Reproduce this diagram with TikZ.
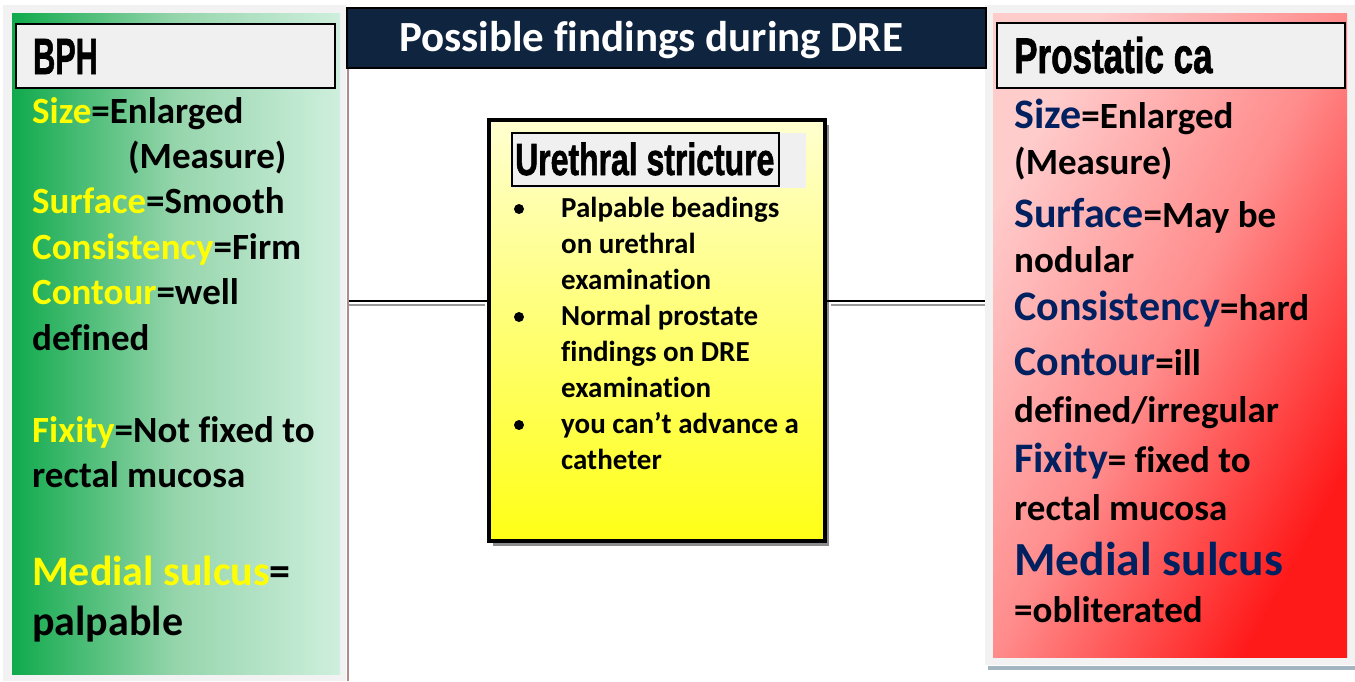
\documentclass[tikz,border=0pt]{standalone}
\usepackage{fontspec}
\usepackage{graphicx}
\setmainfont{Carlito}[Ligatures=NoCommon]
\newfontfamily\headfont{Liberation Sans}[BoldFeatures={FakeBold=1.6}]
\usetikzlibrary{shadows}

\definecolor{navy}{HTML}{0F243E}
\definecolor{labblue}{HTML}{002060}
\definecolor{panelgray}{HTML}{F2F2F2}
\definecolor{hdrgray}{HTML}{F0F0F0}
\definecolor{edgebrown}{HTML}{B08C8C}
\definecolor{bluegray}{HTML}{A3B5C0}
\definecolor{hiyellow}{HTML}{FFFF00}

% coloured keywords
\newcommand\hiY[1]{\textcolor{hiyellow}{#1}}
\newcommand\labB[1]{{\color{labblue}\fontsize{42}{50}\selectfont #1}}

\begin{document}
\begin{tikzpicture}[x=1pt,y=-1pt,
  ltxt/.style={anchor=base west,inner sep=0pt,font=\bfseries\fontsize{37}{44}\selectfont},
  bigtxt/.style={font=\bfseries\fontsize{42}{50}\selectfont},
  mtxt/.style={anchor=base west,inner sep=0pt,font=\bfseries\fontsize{29}{35}\selectfont},
  headbox/.style={draw=black,line width=2pt,fill=hdrgray,inner sep=0pt},
  headtxt/.style={anchor=base west,inner sep=0pt},
  bulletdot/.style={circle,fill=black,inner sep=0pt,minimum size=10pt},
  link/.style={draw=black,line width=2pt},
  linkshade/.style={draw=black!40,line width=2pt}
]
\useasboundingbox (0,0) rectangle (1355,681);
\fill[white] (0,0) rectangle (1355,681);

% ---- left panel (BPH) ----
\fill[panelgray] (3,5) rectangle (346,681);
\node[anchor=north west,inner sep=0pt,minimum width=328pt,minimum height=661pt,
      left color={rgb,255:red,16;green,170;blue,76},
      right color={rgb,255:red,206;green,239;blue,221},
      middle color={rgb,255:red,150;green,213;blue,172}] (bph) at (12,13) {};
\node[headbox,minimum width=319pt,minimum height=64pt] (bphhead) at (175.5,56) {};
\node[headtxt,font=\headfont\bfseries\fontsize{51}{51}\selectfont] (bphtitle) at (33,74) {\scalebox{0.6}[1]{BPH}};

\node[ltxt] (l1) at (32,123) {\hiY{Size}=Enlarged};
\node[ltxt] (l2) at (128,168.4) {(Measure)};
\node[ltxt] (l3) at (32,213.8) {\hiY{Surface}=Smooth};
\node[ltxt] (l4) at (32,259.2) {\hiY{Consistency}=Firm};
\node[ltxt] (l5) at (32,304.6) {\hiY{Contour}=well};
\node[ltxt] (l6) at (32,350) {defined};
\node[ltxt] (l7) at (32,442) {\hiY{Fixity}=Not fixed to};
\node[ltxt] (l8) at (32,487) {rectal mucosa};
\node[ltxt,bigtxt] (l9) at (32,585) {\hiY{Medial sulcus}=};
\node[ltxt,bigtxt] (l10) at (32,635) {palpable};

% ---- right panel (prostatic carcinoma) ----
\fill[panelgray] (985,5) rectangle (1355,665);
\fill[bluegray] (988,666) rectangle (1355,670);
% diagonal corner-to-corner gradient: a 45-degree shading on a unit square,
% stretched on the canvas to the panel size
\begin{scope}[transform canvas={shift={(993,13)},xscale=3.54,yscale=6.44}]
  \shade[top color={rgb,255:red,255;green,204;blue,204},
         bottom color={rgb,255:red,255;green,26;blue,26},
         middle color={rgb,255:red,255;green,140;blue,140},
         shading angle=45] (0,0) rectangle (100,100);
\end{scope}
\node[anchor=north west,inner sep=0pt,minimum width=354pt,minimum height=644pt] (pca) at (993,13) {};
\node[headbox,minimum width=348pt,minimum height=65pt] (pcahead) at (1171,55.5) {};
\node[headtxt,font=\headfont\bfseries\fontsize{50}{50}\selectfont] (pcatitle) at (1014,73) {\scalebox{0.7}[1]{Prostatic ca}};

\node[ltxt] (r1) at (1014,128) {\labB{Size}=Enlarged};
\node[ltxt] (r2) at (1014,174) {(Measure)};
\node[ltxt] (r3) at (1014,227) {\labB{Surface}=May be};
\node[ltxt] (r4) at (1014,272) {nodular};
\node[ltxt] (r5) at (1014,320) {\labB{Consistency}=hard};
\node[ltxt] (r6) at (1014,375) {\labB{Contour}=ill};
\node[ltxt] (r7) at (1014,422) {defined/irregular};
\node[ltxt] (r8) at (1014,472) {\labB{Fixity}= fixed to};
\node[ltxt] (r9) at (1014,520) {rectal mucosa};
\node[ltxt,font=\bfseries\fontsize{47.5}{55}\selectfont,text=labblue] (r10) at (1014,575) {Medial sulcus};
\node[ltxt] (r11) at (1014,622) {=obliterated};

% ---- centre: title bar and divider ----
\draw[edgebrown,line width=2pt] (348,67) -- (348,681);
\node[anchor=north west,draw=black,line width=1.5pt,fill=navy,inner sep=0pt,
      minimum width=639pt,minimum height=60pt] (titlebar) at (346,7) {};
\node[anchor=base,inner sep=0pt,text=white,font=\bfseries\fontsize{43}{50}\selectfont] (titletext) at (651,51) {Possible findings during DRE};

% ---- centre box: urethral stricture ----
\node[draw=black,line width=4pt,minimum width=336pt,minimum height=421pt,inner sep=0pt,
      top color={rgb,255:red,255;green,255;blue,208},
      bottom color={rgb,255:red,255;green,255;blue,22},
      drop shadow={shadow xshift=4pt,shadow yshift=-5pt,fill=black!45,opacity=1}] (stricture) at (657,330.5) {};
\node[fill=hdrgray,inner sep=0pt,minimum width=294pt,minimum height=55pt] (urhbg) at (659,160.5) {};
\node[draw=black,line width=1.5pt,inner sep=0pt,minimum width=267pt,minimum height=53pt] (urhead) at (645.5,159.5) {};
\node[headtxt,font=\headfont\bfseries\fontsize{45}{45}\selectfont] (urtitle) at (515,175) {\scalebox{0.71}[1]{Urethral stricture}};

\node[bulletdot] (b1) at (519,209) {};
\node[bulletdot] (b2) at (519,317) {};
\node[bulletdot] (b3) at (519,425) {};
\node[mtxt] (m1) at (561,217) {Palpable beadings};
\node[mtxt] (m2) at (561,253) {on urethral};
\node[mtxt] (m3) at (561,289) {examination};
\node[mtxt] (m4) at (561,325) {Normal prostate};
\node[mtxt] (m5) at (561,361) {findings on DRE};
\node[mtxt] (m6) at (561,397) {examination};
\node[mtxt] (m7) at (561,433) {you can’t advance a};
\node[mtxt] (m8) at (561,469) {catheter};

% ---- connectors between the divider, the centre box and the right panel ----
\coordinate (lend) at (349,301);
\coordinate (rend) at (985,301);
\coordinate (lbox) at (lend -| stricture.west);
\coordinate (rbox) at (rend -| stricture.east);
\draw[linkshade] ([yshift=-3.5pt]lend) -- ([yshift=-3.5pt,xshift=-2pt]lbox);
\draw[link] (lend) -- (lbox);
\draw[linkshade] ([yshift=-3.5pt,xshift=4pt]rbox) -- ([yshift=-3.5pt]rend);
\draw[link] (rbox) -- (rend);
\end{tikzpicture}
\end{document}
